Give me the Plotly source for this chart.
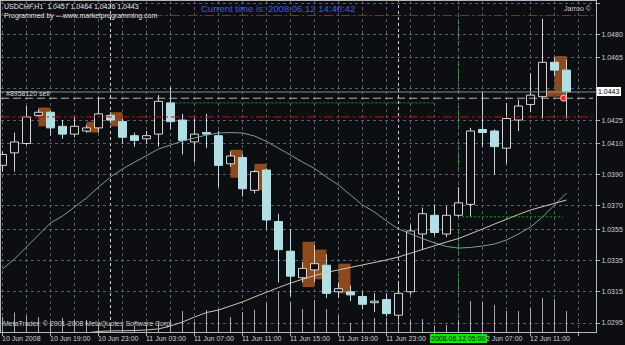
import pandas as pd
import plotly.graph_objects as go

# ---------------- data ----------------
symbol = "USDCHF"
timeframe = "H1"
bar_times = list(pd.date_range("2008-06-10 15:00", periods=48, freq="h"))

opens = [1.0396, 1.0404, 1.0410, 1.0428, 1.0430, 1.0421, 1.0416, 1.0418, 1.0420, 1.0428,
         1.0424, 1.0415, 1.0413, 1.0416, 1.0436, 1.0425, 1.0411, 1.0417, 1.0415, 1.0397,
         1.0401, 1.0380, 1.0393, 1.0360, 1.0341, 1.0324, 1.0329, 1.0332, 1.0315, 1.0315,
         1.0312, 1.0308, 1.0310, 1.0300, 1.0315, 1.0352, 1.0364, 1.0352, 1.0364, 1.0371,
         1.0419, 1.0418, 1.0407, 1.0425, 1.0435, 1.0440, 1.0462, 1.0457]
highs = [1.0405, 1.0417, 1.0434, 1.0432, 1.0431, 1.0425, 1.0427, 1.0422, 1.0440, 1.0430,
         1.0426, 1.0417, 1.0418, 1.0441, 1.0446, 1.0429, 1.0426, 1.0429, 1.0418, 1.0405,
         1.0403, 1.0393, 1.0394, 1.0365, 1.0355, 1.0334, 1.0345, 1.0339, 1.0321, 1.0319,
         1.0315, 1.0314, 1.0314, 1.0320, 1.0358, 1.0369, 1.0371, 1.0370, 1.0382, 1.0420,
         1.0443, 1.0419, 1.0436, 1.0438, 1.0455, 1.0490, 1.0465, 1.0464]
lows = [1.0392, 1.0392, 1.0409, 1.0427, 1.0415, 1.0413, 1.0414, 1.0417, 1.0417, 1.0423,
        1.0410, 1.0408, 1.0410, 1.0408, 1.0419, 1.0403, 1.0398, 1.0407, 1.0382, 1.0395,
        1.0376, 1.0378, 1.0355, 1.0321, 1.0312, 1.0321, 1.0321, 1.0311, 1.0311, 1.0309,
        1.0304, 1.0302, 1.0299, 1.0298, 1.0313, 1.0342, 1.0351, 1.0350, 1.0363, 1.0363,
        1.0408, 1.0390, 1.0397, 1.0418, 1.0430, 1.0426, 1.0453, 1.0426]
closes = [1.0403, 1.0411, 1.0427, 1.0430, 1.0420, 1.0416, 1.0421, 1.0420, 1.0429, 1.0425,
          1.0414, 1.0412, 1.0415, 1.0437, 1.0424, 1.0412, 1.0416, 1.0416, 1.0396, 1.0402,
          1.0381, 1.0392, 1.0361, 1.0342, 1.0325, 1.0330, 1.0333, 1.0314, 1.0317, 1.0313,
          1.0307, 1.0309, 1.0301, 1.0314, 1.0354, 1.0365, 1.0353, 1.0364, 1.0372, 1.0418,
          1.0417, 1.0408, 1.0426, 1.0434, 1.0441, 1.0462, 1.0457, 1.0443]
volumes = [150, 195, 160, 150, 100, 140, 120, 120, 80, 80, 60, 60, 70, 100, 120, 210,
           100, 220, 230, 150, 200, 220, 290, 400, 300, 230, 320, 230, 170, 90, 120, 140,
           140, 130, 120, 130, 60, 70, 120, 310, 300, 270, 210, 210, 240, 340, 330, 210]
ma_slow = [1.03296, 1.03360, 1.03437, 1.03514, 1.03591, 1.03635, 1.03693, 1.03751, 1.03821, 1.03885,
           1.03937, 1.03981, 1.04026, 1.04065, 1.04090, 1.04116, 1.04135, 1.04154, 1.04167, 1.04170,
           1.04167, 1.04148, 1.04113, 1.04071, 1.04026, 1.03981, 1.03940, 1.03885, 1.03834, 1.03770,
           1.03706, 1.03661, 1.03603, 1.03552, 1.03520, 1.03491, 1.03463, 1.03440, 1.03430, 1.03434,
           1.03443, 1.03456, 1.03482, 1.03520, 1.03565, 1.03629, 1.03706, 1.03783]
ma_fast = [1.02777, 1.02796, 1.02815, 1.02835, 1.02854, 1.02867, 1.02876, 1.02883, 1.02896, 1.02899,
           1.02899, 1.02902, 1.02905, 1.02912, 1.02931, 1.02956, 1.02988, 1.03017, 1.03033, 1.03059,
           1.03085, 1.03117, 1.03149, 1.03177, 1.03206, 1.03232, 1.03254, 1.03274, 1.03290, 1.03302,
           1.03318, 1.03334, 1.03354, 1.03373, 1.03398, 1.03421, 1.03443, 1.03469, 1.03491, 1.03520,
           1.03552, 1.03584, 1.03616, 1.03645, 1.03674, 1.03696, 1.03719, 1.03738]

box_start = [3, 7, 9, 19, 21, 25, 26, 28, 45, 46]
box_top = [1.0433, 1.0424, 1.0430, 1.0406, 1.0397, 1.0347, 1.0342, 1.0333, 1.0444, 1.0466]
box_bottom = [1.0421, 1.0417, 1.0421, 1.0388, 1.0380, 1.0318, 1.0323, 1.0314, 1.0440, 1.0440]

price_ticks = [1.0500, 1.0480, 1.0465, 1.0445, 1.0425, 1.0410, 1.0390, 1.0370,
               1.0355, 1.0335, 1.0315, 1.0295]
tick_bars = [0, 4, 8, 12, 16, 20, 24, 28, 32, 36, 40, 44]
tick_labels = ["10 Jun 2008", "10 Jun 19:00", "10 Jun 23:00", "11 Jun 03:00", "11 Jun 07:00",
               "11 Jun 11:00", "11 Jun 15:00", "11 Jun 19:00", "11 Jun 23:00", "12 Jun 03:00",
               "12 Jun 07:00", "12 Jun 11:00"]

stop_level = 1.0492
target_level = 1.0427
order_price = 1.0439
order_bar = 46.75
order_label = "#8958120 sell"
bid_price = 1.0443
green_levels = [1.0436, 1.0363]
green_from = [14.4, 38.3]
green_to = [35.9, 46.7]
marked_time = "2008.06.12 05:00"
current_time = "2008.06.12 14:40:42"

# ---------------- style ----------------
BG = "#0C0E11"
GRID = "#56606A"
FONT = "Liberation Sans, Arial, sans-serif"
BULL_LINE = "#D4D4D4"
BEAR = "#B0E0E6"
BROWN = "#8E4A1A"

n = len(opens)
xs = list(range(n))
bull = [c >= o for o, c in zip(opens, closes)]

fig = go.Figure()

# volumes
vx, vy = [], []
for i in xs:
    vx += [i, i, None]
    vy += [0, volumes[i], None]
fig.add_trace(go.Scatter(x=vx, y=vy, yaxis="y2", mode="lines",
                         line=dict(color="#A8A8A8", width=1), hoverinfo="skip"))

# bodies
for sel, fill, lc in [(True, BG, BULL_LINE), (False, BEAR, BEAR)]:
    idx = [i for i in xs if bull[i] == sel]
    fig.add_trace(go.Bar(
        x=idx,
        y=[abs(closes[i] - opens[i]) for i in idx],
        base=[min(opens[i], closes[i]) for i in idx],
        width=8 / 12,
        marker=dict(color=fill, line=dict(color=lc, width=1)),
        hoverinfo="skip"))

# wicks
for sel, lc in [(True, BULL_LINE), (False, BEAR)]:
    wx, wy = [], []
    for i in xs:
        if bull[i] != sel:
            continue
        top = max(opens[i], closes[i])
        bot = min(opens[i], closes[i])
        wx += [i, i, None, i, i, None]
        wy += [highs[i], top, None, bot, lows[i], None]
    fig.add_trace(go.Scatter(x=wx, y=wy, mode="lines", line=dict(color=lc, width=1),
                             hoverinfo="skip"))

# moving averages
fig.add_trace(go.Scatter(x=xs, y=ma_slow, mode="lines", line=dict(color="#7B9CA6", width=1)))
fig.add_trace(go.Scatter(x=xs, y=ma_fast, mode="lines", line=dict(color="#CFC6AE", width=1)))

# order arrow
fig.add_trace(go.Scatter(x=[order_bar], y=[order_price], mode="markers",
                         marker=dict(size=6, color="#FF2020", line=dict(color="#FFC8C8", width=1))))

shapes = []
for s, t, b in zip(box_start, box_top, box_bottom):
    shapes.append(dict(type="rect", xref="x", yref="y", x0=s, x1=s + 1, y0=b, y1=t,
                       fillcolor=BROWN, line=dict(width=0), layer="below"))
for i, t in enumerate(bar_times):
    if t.hour == 0:
        shapes.append(dict(type="line", xref="x", yref="paper", x0=i, x1=i, y0=0, y1=1,
                           line=dict(color="#D0D0D0", width=1, dash="3px,3px"), layer="below"))
mark_idx = [t.strftime("%Y.%m.%d %H:%M") for t in bar_times].index(marked_time)
shapes.append(dict(type="line", xref="x", yref="paper", x0=mark_idx, x1=mark_idx, y0=0, y1=1,
                   line=dict(color="#00C800", width=1, dash="4px,3px"), layer="below"))
for lvl in [stop_level, target_level]:
    shapes.append(dict(type="line", xref="paper", yref="y", x0=0, x1=0.995, y0=lvl, y1=lvl,
                       line=dict(color="#C81010", width=1, dash="9px,3px,2px,3px")))
shapes.append(dict(type="line", xref="paper", yref="y", x0=0, x1=0.995, y0=order_price, y1=order_price,
                   line=dict(color="#B4B4B4", width=1, dash="8px,4px")))
shapes.append(dict(type="line", xref="paper", yref="y", x0=0, x1=1, y0=bid_price, y1=bid_price,
                   line=dict(color="#7D8A96", width=1)))
for lvl, a, b in zip(green_levels, green_from, green_to):
    shapes.append(dict(type="line", xref="x", yref="y", x0=a, x1=b, y0=lvl, y1=lvl,
                       line=dict(color="#00B000", width=1, dash="2px,2px")))


def px(xp):
    return (xp - 1) / 595


def py(yp):
    return (332 - yp) / 331


ann = []
last = n - 1
ann.append(dict(text=f"{symbol},{timeframe}\u00a0\u00a0{opens[last]:.4f} {highs[last]:.4f} {lows[last]:.4f} {closes[last]:.4f}",
                xref="paper", yref="paper", x=px(2), y=py(7), xanchor="left", yanchor="middle",
                font=dict(size=7, color="#E8E8E8", family=FONT), showarrow=False))
ann.append(dict(text="Programmed by ---www.marketprogramming.com",
                xref="paper", yref="paper", x=px(2), y=py(15.5), xanchor="left", yanchor="middle",
                font=dict(size=7, color="#E8E8E8", family=FONT), showarrow=False))
ann.append(dict(text=f"Current time is: {current_time}",
                xref="paper", yref="paper", x=px(199), y=py(8), xanchor="left", yanchor="middle",
                font=dict(size=9.5, color="#3C5AE6", family=FONT), showarrow=False))
ann.append(dict(text="Jarroo ©", xref="paper", yref="paper", x=px(562), y=py(8),
                xanchor="left", yanchor="middle",
                font=dict(size=7, color="#C8C8C8", family=FONT), showarrow=False))
ann.append(dict(text=order_label, xref="paper", yref="y", x=px(4), y=order_price,
                xanchor="left", yanchor="bottom", yshift=-1,
                font=dict(size=7, color="#D8D8D8", family=FONT), showarrow=False))
ann.append(dict(text="MetaTrader: © 2001-2008 MetaQuotes Software Corp.",
                xref="paper", yref="paper", x=px(1), y=py(324), xanchor="left", yanchor="middle",
                font=dict(size=7, color="#D0D0D0", family=FONT), showarrow=False))
# time labels (the one fully covered by the highlighted time box is not visible in the reference)
for b, lab in zip(tick_bars, tick_labels):
    if mark_idx - 2 <= b < mark_idx:
        continue
    ann.append(dict(text=lab, xref="x", yref="paper", x=b, y=0, xanchor="left", yanchor="top",
                    xshift=-2.5, yshift=-0.5,
                    font=dict(size=7, color="#D0D0D0", family=FONT), showarrow=False))
ann.append(dict(text=marked_time, xref="x", yref="paper", x=mark_idx, y=0, xanchor="center",
                yanchor="top", yshift=-2, bgcolor="#00EE00", borderpad=0, borderwidth=1,
                bordercolor="#00EE00",
                font=dict(size=7, color="#000000", family=FONT), showarrow=False))
ann.append(dict(text=f"{bid_price:.4f}", xref="paper", yref="y", x=1, y=bid_price,
                xanchor="left", yanchor="middle", xshift=1, bgcolor="#FFFFFF", borderpad=0,
                borderwidth=1, bordercolor="#FFFFFF",
                font=dict(size=7, color="#000000", family=FONT), showarrow=False))

# price label hidden behind the bid box in the reference
price_text = ["" if abs(v - bid_price) < 0.0004 else f"{v:.4f}" for v in price_ticks]

ymax = 1.0500 + 2 * 0.0205 / 320
ymin = 1.0500 - 329 * 0.0205 / 320

fig.update_layout(
    width=625, height=345,
    margin=dict(l=1, r=29, t=1, b=13, autoexpand=False),
    paper_bgcolor=BG, plot_bgcolor=BG,
    showlegend=False, barmode="overlay",
    shapes=shapes, annotations=ann,
    xaxis=dict(range=[-0.125, -0.125 + 595 / 12], tickmode="linear", tick0=0, dtick=4,
               showticklabels=False, ticks="outside", ticklen=3, tickcolor="#B0B0B0",
               showgrid=True, gridcolor=GRID, griddash="3px,3px", gridwidth=1,
               minor=dict(tick0=0, dtick=2, showgrid=True, gridcolor=GRID, griddash="3px,3px",
                          ticks=""),
               showline=True, linecolor="#B8B8B8", linewidth=1, mirror=True, zeroline=False),
    yaxis=dict(range=[ymin, ymax], side="right", tickmode="array", tickvals=price_ticks,
               ticktext=price_text, ticks="outside", ticklen=3,
               tickcolor="#B0B0B0", tickfont=dict(size=7, color="#D0D0D0", family=FONT),
               showgrid=True, gridcolor=GRID, griddash="3px,3px", gridwidth=1,
               showline=True, linecolor="#B8B8B8", linewidth=1, mirror=True, zeroline=False),
    yaxis2=dict(overlaying="y", range=[0, 3310], visible=False),
)

fig.write_html("out.html")
